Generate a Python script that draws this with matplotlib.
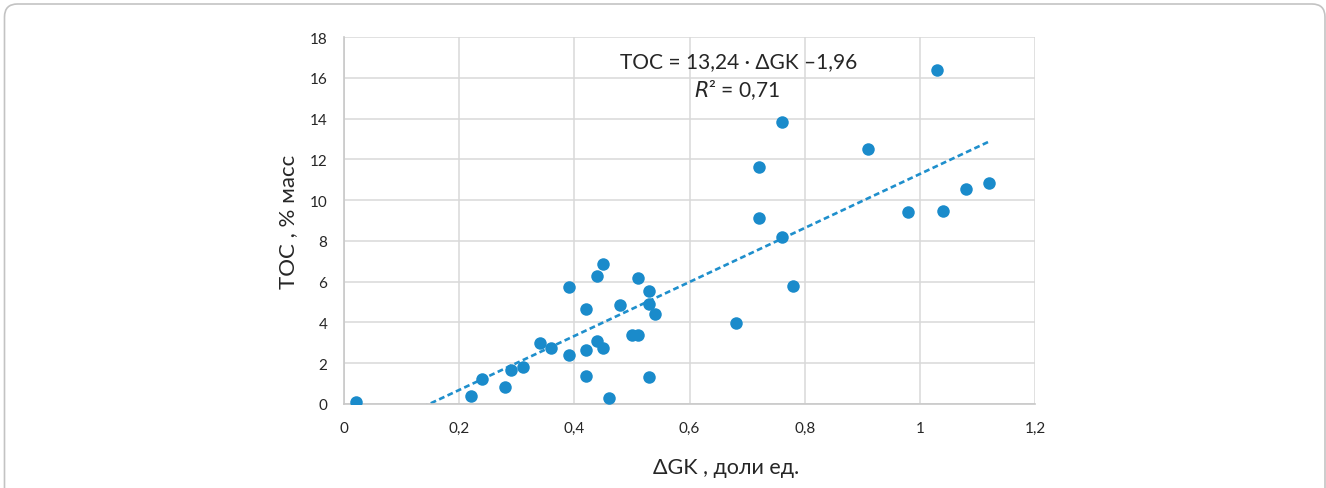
import numpy as np
import matplotlib
matplotlib.use("Agg")
import matplotlib.pyplot as plt
from matplotlib.patches import FancyBboxPatch

# ---- data ----
dgk = [0.02, 0.22, 0.24, 0.28, 0.29, 0.31, 0.34, 0.36, 0.39, 0.39,
       0.42, 0.42, 0.42, 0.44, 0.44, 0.45, 0.45, 0.46, 0.48, 0.50,
       0.51, 0.51, 0.53, 0.53, 0.53, 0.54,
       0.68, 0.72, 0.72, 0.76, 0.76, 0.78, 0.91, 0.98, 1.03, 1.04, 1.08, 1.12]
toc = [0.12, 0.38, 1.23, 0.84, 1.67, 1.83, 2.97, 2.74, 2.41, 5.72,
       2.67, 1.36, 4.66, 3.11, 6.28, 2.74, 6.89, 0.28, 4.84, 3.36,
       3.36, 6.20, 5.54, 4.90, 1.31, 4.41,
       3.97, 11.64, 9.10, 13.84, 8.18, 5.80, 12.49, 9.43, 16.38, 9.48, 10.53, 10.85]
slope, intercept = 13.24, -1.96
x_ticks = [0, 0.2, 0.4, 0.6, 0.8, 1.0, 1.2]
x_ticklabels = ["0", "0,2", "0,4", "0,6", "0,8", "1", "1,2"]
y_ticks = [0, 2, 4, 6, 8, 10, 12, 14, 16, 18]
y_ticklabels = [str(v) for v in y_ticks]
eq_text = "TOC = 13,24 · ΔGK –1,96"
r2_text = r"$\mathit{R}$² = 0,71"
xlabel = "ΔGK , доли ед."
ylabel = "TOC , % масс"

plt.rcParams['font.family'] = ['Lato', 'DejaVu Sans']
W, H = 1326, 489
fig = plt.figure(figsize=(W / 100, H / 100), dpi=100)

# rounded frame
frame = FancyBboxPatch((0.045, -0.3), 13.205, 5.14,
                       boxstyle="round,pad=0,rounding_size=0.13",
                       transform=fig.dpi_scale_trans, facecolor='none',
                       edgecolor='#c3c3c3', linewidth=1.2, zorder=-1)
fig.patches.append(frame)

ax = fig.add_axes([344 / W, 1 - 405 / H, (1035 - 344) / W, (405 - 38) / H])
ax.set_facecolor('none')

dot_color = '#1a8bcb'
ax.plot(dgk, toc, 'o', color=dot_color, markersize=9, markeredgewidth=0, zorder=3)

xl = np.array([min(dgk), max(dgk)])
ax.plot(xl, slope * xl + intercept, color='#1f8fcc', lw=1.9,
        dashes=(2.2, 1.3), zorder=2, solid_capstyle='butt', dash_capstyle='butt')

ax.set_xlim(0, 1.2)
ax.set_ylim(0, 18)
ax.set_xticks(x_ticks)
ax.set_xticklabels(x_ticklabels)
ax.set_yticks(y_ticks)
ax.set_yticklabels(y_ticklabels)
ax.grid(True, color='#d9d9d9', lw=1.1)
ax.set_axisbelow(True)
for s in ['top', 'right']:
    ax.spines[s].set_visible(False)
for s in ['left', 'bottom']:
    ax.spines[s].set_color('#c8c8c8')
    ax.spines[s].set_linewidth(1.2)
ax.tick_params(axis='both', length=0, labelsize=11, colors='#262626')
ax.tick_params(axis='y', pad=12)
ax.tick_params(axis='x', pad=12)

ax.set_xlabel(xlabel, fontsize=15.5, color='#262626', labelpad=10)
ax.xaxis.set_label_coords(0.553, -0.145)
ax.set_ylabel(ylabel, fontsize=16, color='#262626', labelpad=8)

ax.text(0.685, 16.8, eq_text, ha='center', va='center', fontsize=15, color='#262626')
ax.text(0.683, 15.45, r2_text, ha='center', va='center', fontsize=15, color='#262626')

fig.savefig('out.png', dpi=100)
